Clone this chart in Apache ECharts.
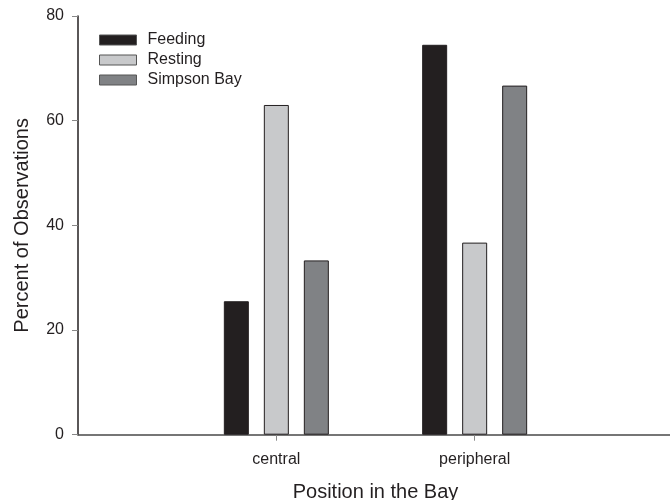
<!DOCTYPE html>
<html>
<head>
<meta charset="utf-8">
<script src="https://cdn.jsdelivr.net/npm/echarts@6/dist/echarts.min.js"></script>
<style>
  html, body { margin: 0; padding: 0; background: #fff; }
  #chart { width: 670px; height: 500px; }
</style>
</head>
<body>
<div id="chart"></div>
<script>
// Position categories along the x axis (placed at 1, 2 on a 0..3 scale)
const categories = ['central', 'peripheral'];
const seriesNames = ['Feeding', 'Resting', 'Simpson Bay'];
// Percent of observations per category
const feeding = [25.5, 74.5];
const resting = [63.0, 36.7];
const simpsonBay = [33.3, 66.7];
const yTicks = [0, 20, 40, 60, 80];

const colors = ['#231f20', '#c8c9cb', '#808285'];
const valuesBySeries = [feeding, resting, simpsonBay];
const ink = '#231f20';
const font = '"Liberation Sans", Arial, sans-serif';

const chart = echarts.init(document.getElementById('chart'), null, { renderer: 'canvas' });

const series = seriesNames.map((name, s) => ({
  name: name,
  type: 'bar',
  barWidth: 25,
  barGap: '60%',
  itemStyle: { color: colors[s], borderColor: ink, borderWidth: 1 },
  data: valuesBySeries[s].map((v, i) => [i + 1, v])
}));

chart.setOption({
  animation: false,
  backgroundColor: '#fff',
  textStyle: { fontFamily: font, color: ink },
  grid: { left: 78, top: 16, width: 595, bottom: 65.3, outerBoundsMode: 'none', containLabel: false },
  legend: {
    orient: 'vertical',
    left: 99,
    top: 32,
    padding: 0,
    icon: 'rect',
    itemWidth: 37,
    itemHeight: 10,
    itemGap: 4,
    data: seriesNames,
    textStyle: { fontFamily: font, fontSize: 16, color: ink, lineHeight: 16, padding: [0, 0, 0, 6] },
    itemStyle: { borderColor: '#555', borderWidth: 1 }
  },
  xAxis: {
    type: 'value',
    min: 0,
    max: 3,
    interval: 1,
    name: 'Position in the Bay',
    nameLocation: 'middle',
    nameGap: 48,
    nameTextStyle: { fontFamily: font, fontSize: 20, color: ink },
    splitLine: { show: false },
    axisLine: { show: true, lineStyle: { color: '#4a4a4a', width: 1.5 } },
    axisTick: { show: true, customValues: [1, 2], length: 6, lineStyle: { color: '#888' } },
    axisLabel: {
      customValues: [1, 2],
      margin: 17,
      fontSize: 16,
      color: ink,
      fontFamily: font,
      formatter: v => categories[Math.round(v) - 1] || ''
    }
  },
  yAxis: {
    type: 'value',
    min: yTicks[0],
    max: yTicks[yTicks.length - 1],
    interval: 20,
    name: 'Percent of Observations',
    nameLocation: 'middle',
    nameGap: 46,
    nameTextStyle: { fontFamily: font, fontSize: 20, color: ink },
    splitLine: { show: false },
    axisLine: { show: true, lineStyle: { color: ink, width: 1.5 } },
    axisTick: { show: true, length: 6, lineStyle: { color: '#888' } },
    axisLabel: { margin: 14, fontSize: 16, color: ink, fontFamily: font }
  },
  series: series
});
</script>
</body>
</html>
